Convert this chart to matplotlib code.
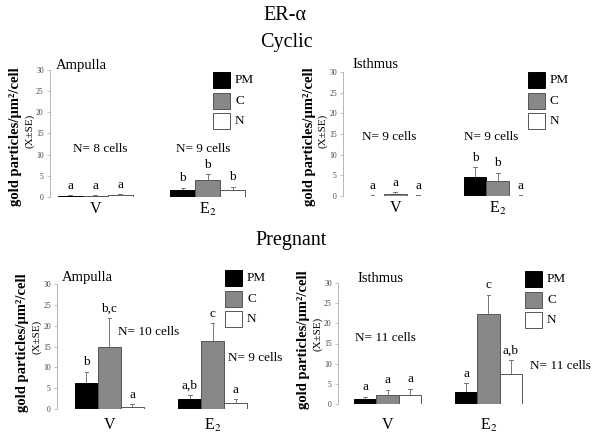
import matplotlib
matplotlib.use("Agg")
import matplotlib.pyplot as plt
from matplotlib.patches import Rectangle
from matplotlib.transforms import ScaledTranslation

plt.rcParams['font.family'] = ['Liberation Serif', 'DejaVu Serif']
plt.rcParams['mathtext.fontset'] = 'stix'

W, H = 600, 436

groups = ["V", "E$_2$"]
series = ["PM", "C", "N"]
colors = ["#000000", "#888888", "#ffffff"]
edges = ["#000000", "#555555", "#555555"]

# values (mean) and upper error-bar tops, per panel: [V(PM,C,N), E2(PM,C,N)]
cyc_amp_mean = [[0.3, 0.2, 0.4], [1.7, 4.1, 1.7]]
cyc_amp_top = [[0.4, 0.4, 0.7], [2.2, 5.4, 2.4]]
cyc_amp_let = [["a", "a", "a"], ["b", "b", "b"]]

cyc_ist_mean = [[0.1, 0.6, 0.1], [4.5, 3.7, 0.1]]
cyc_ist_top = [[0.2, 0.9, 0.2], [7.0, 5.6, 0.2]]
cyc_ist_let = [["a", "a", "a"], ["b", "b", "a"]]

prg_amp_mean = [[6.3, 14.8, 0.6], [2.3, 16.3, 1.5]]
prg_amp_top = [[8.9, 21.9, 1.1], [3.4, 20.6, 2.4]]
prg_amp_let = [["b", "b,c", "a"], ["a,b", "c", "a"]]

prg_ist_mean = [[1.2, 2.3, 2.3], [2.9, 22.4, 7.4]]
prg_ist_top = [[1.8, 3.5, 3.8], [5.2, 27.1, 10.8]]
prg_ist_let = [["a", "a", "a"], ["a", "c", "a,b"]]

yticks = [0, 5, 10, 15, 20, 25, 30]

fig = plt.figure(figsize=(W / 100, H / 100), dpi=100)


def fx(x):
    return x / W


def fy(y):
    return 1 - y / H


def panel(axx, y30, y0, axr, barl, barr, mean, top, let, title, tpos,
          ntexts, legxy, goff, yloff):
    ax = fig.add_axes([fx(axx), fy(y0), (axr - axx) / W, (y0 - y30) / H])
    ppu = (barr - barl) / 7.5
    x0 = -0.5 - (barl - axx) / ppu
    x1 = x0 + (axr - axx) / ppu
    ax.set_xlim(x0, x1)
    ax.set_ylim(0, 30)
    centers = [[0, 1, 2], [4.5, 5.5, 6.5]]
    shift = ax.transData + ScaledTranslation(0, -goff / 72, fig.dpi_scale_trans)
    for g in range(2):
        for s in range(3):
            xc = centers[g][s]
            m = mean[g][s]
            ax.bar(xc, m, width=1.0, color=colors[s], edgecolor=edges[s],
                   linewidth=0.7, zorder=2)
            ax.plot([xc, xc], [m, top[g][s]], color="#777777", lw=0.7, zorder=1)
            ax.plot([xc - 0.08, xc + 0.08], [top[g][s], top[g][s]],
                    color="#777777", lw=0.7, zorder=1)
            ax.annotate(let[g][s], (xc, top[g][s]), xytext=(0, 2.5),
                        textcoords="offset points", ha="center", va="bottom",
                        fontsize=9.5, annotation_clip=False)
        ax.text(centers[g][1], 0, groups[g], transform=shift,
                ha="center", va="top", fontsize=11.5, clip_on=False)
    for sp in ["top", "right", "bottom"]:
        ax.spines[sp].set_visible(False)
    ax.spines["left"].set_color("#aaaaaa")
    ax.spines["left"].set_linewidth(0.6)
    ax.set_xticks([])
    ax.set_yticks(yticks)
    ax.tick_params(axis="y", length=2.5, width=0.5, color="#aaaaaa",
                   labelsize=5.5, labelcolor="#444444", pad=2)
    ax.patch.set_alpha(0)
    fig.text(fx(tpos[0]), fy(tpos[1]), title, fontsize=10.5, ha="left", va="center")
    for (tx, ty, s) in ntexts:
        fig.text(fx(tx), fy(ty), s, fontsize=9.5, ha="left", va="center")
    lx, ly = legxy
    for i, s in enumerate(series):
        yy = ly + i * 20.5
        fig.add_artist(Rectangle((fx(lx), fy(yy + 16)), 17 / W, 16 / H,
                                 transform=fig.transFigure, facecolor=colors[i],
                                 edgecolor=edges[i], linewidth=0.7))
        fig.text(fx(lx + 22), fy(yy + 8), s, fontsize=9.5, ha="left", va="center")
    yc = (y30 + y0) / 2 + yloff
    fig.text(fx(axx - 34), fy(yc), "gold particles/µm²/cell", rotation=90,
             fontsize=10.5, fontweight="bold", ha="center", va="center")
    fig.text(fx(axx - 20), fy(yc - 6), "(X±SE)", rotation=90,
             fontsize=8, ha="center", va="center")
    return ax


panel(50, 70, 197, 262, 58, 245, cyc_amp_mean, cyc_amp_top, cyc_amp_let,
      "Ampulla", (56, 66),
      [(73, 149, "N= 8 cells"), (176, 149, "N= 9 cells")], (213, 72), 3, 3)
panel(343, 72, 196, 565, 361, 532, cyc_ist_mean, cyc_ist_top, cyc_ist_let,
      "Isthmus", (352, 65),
      [(362, 137, "N= 9 cells"), (464, 137, "N= 9 cells")], (528, 72), 3, 3)
panel(57, 284, 409, 290, 75, 247, prg_amp_mean, prg_amp_top, prg_amp_let,
      "Ampulla", (62, 278),
      [(118, 332, "N= 10 cells"), (228, 358, "N= 9 cells")], (225, 270), 6, -4)
panel(338, 283, 404, 598, 354, 522, prg_ist_mean, prg_ist_top, prg_ist_let,
      "Isthmus", (357, 278),
      [(355, 338, "N= 11 cells"), (530, 366, "N= 11 cells")], (525, 271), 9, -4)

fig.text(fx(285), fy(16), "ER-α", fontsize=14.5, ha="center", va="center")
fig.text(fx(286), fy(42), "Cyclic", fontsize=14.5, ha="center", va="center")
fig.text(fx(291), fy(240), "Pregnant", fontsize=14.5, ha="center", va="center")

fig.savefig("out.png", dpi=100)
